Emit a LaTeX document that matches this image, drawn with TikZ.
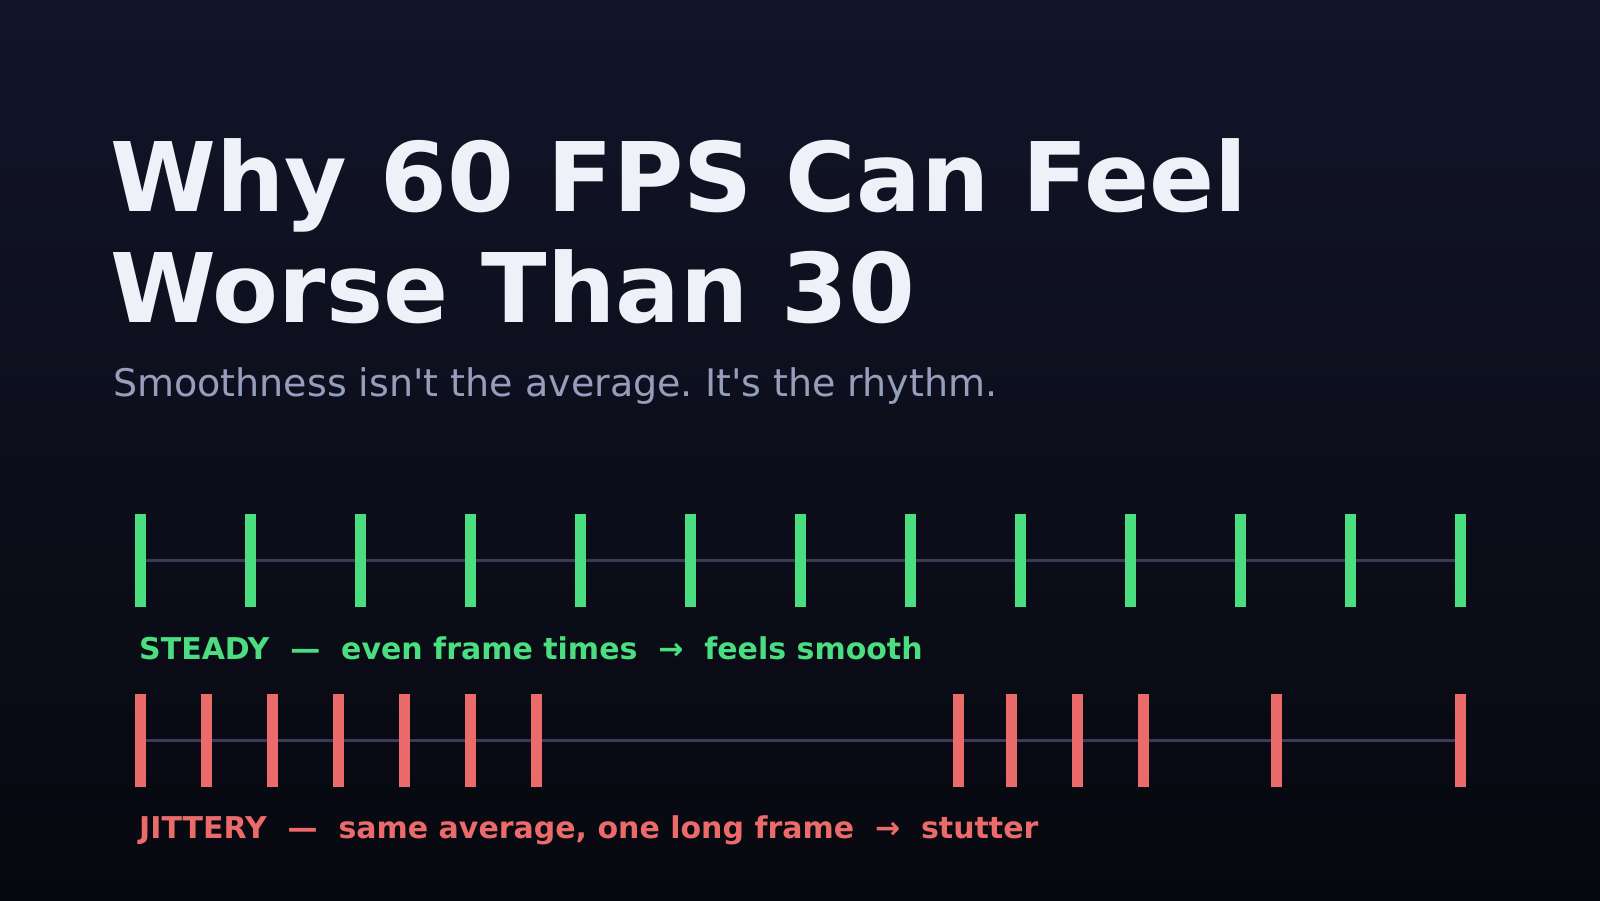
\documentclass[tikz,border=0pt]{standalone}
\usepackage{fontspec}
\setmainfont{DejaVu Sans}
\usepackage{xcolor}
\usepackage{tikz}
\frenchspacing

\definecolor{bgtop}{HTML}{121529}
\definecolor{bgbot}{HTML}{07080F}
\definecolor{titlec}{HTML}{EEF2F8}
\definecolor{subc}{HTML}{959EBA}
\definecolor{steadyc}{HTML}{4ADE80}
\definecolor{jitterc}{HTML}{EB6B6B}
\definecolor{trackc}{HTML}{3A3C56}

\begin{document}
\begin{tikzpicture}[x=1pt,y=-1pt,
    track/.style={trackc, line width=3pt},
    tick/.style={line width=11pt},
    label/.style={anchor=base west, inner sep=0pt, font=\fontsize{30}{36}\selectfont\bfseries}]
    \shade[top color=bgtop, bottom color=bgbot] (0,0) rectangle (1600,900);
    \useasboundingbox (0,0) rectangle (1600,900);

    \node[anchor=base west, inner sep=0pt, titlec, font=\fontsize{96}{111}\selectfont\bfseries] (title1) at (110,211) {Why 60 FPS Can Feel};
    \node[anchor=base west, inner sep=0pt, titlec, font=\fontsize{96}{111}\selectfont\bfseries] (title2) at (110,322) {Worse Than 30};
    \node[anchor=base west, inner sep=0pt, subc, font=\fontsize{38}{44}\selectfont] (sub) at (113,396) {Smoothness isn\textquotesingle t the average. It\textquotesingle s the rhythm.};

    % steady frames
    \draw[track] (140,560) -- (1460,560);
    \foreach \x in {0,...,12}
        \draw[tick,steadyc] (140+110*\x,514) -- (140+110*\x,607);
    \node[label,steadyc] (steady) at (139,659) {STEADY\ \ —\ \ even frame times\ \ →\ \ feels smooth};

    % jittery frames
    \draw[track] (140,740) -- (1460,740);
    \foreach \x in {140,206,272,338,404,470,536,958,1011,1077,1143,1276,1460}
        \draw[tick,jitterc] (\x,694) -- (\x,787);
    \node[label,jitterc] (jitter) at (139,838) {JITTERY\ \ —\ \ same average, one long frame\ \ →\ \ stutter};
  \end{tikzpicture}
\end{document}
